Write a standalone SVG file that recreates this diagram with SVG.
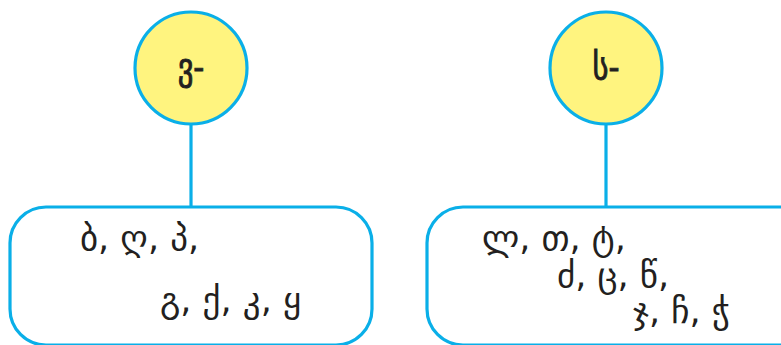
<svg xmlns="http://www.w3.org/2000/svg" width="781" height="345" viewBox="0 0 781 345">
  <style>
    .head { fill: #fff47f; stroke: #0aafe8; stroke-width: 3.2; }
    .box { fill: #ffffff; stroke: #0aafe8; stroke-width: 3.2; }
    .link { stroke: #0aafe8; stroke-width: 3.2; fill: none; }
    .lbl { font-family: "DejaVu Sans", sans-serif; fill: #231f20; }
    .hlbl { font-size: 36px; text-anchor: middle; stroke: #231f20; stroke-width: 0.9; }
    .item { font-size: 35px; }
  </style>
  <rect width="781" height="345" fill="#ffffff"/>
  <g id="connectors">
    <line class="link" x1="191" y1="124" x2="191" y2="207"/>
    <line class="link" x1="606" y1="124" x2="606" y2="207"/>
  </g>
  <g id="node-v">
    <circle class="head" cx="191" cy="68" r="56"/>
    <text class="lbl hlbl" transform="translate(191 79) scale(0.85 1)">ვ-</text>
  </g>
  <g id="node-s">
    <circle class="head" cx="606" cy="68" r="56"/>
    <text class="lbl hlbl" transform="translate(606 79) scale(0.85 1)">ს-</text>
  </g>
  <g id="list-v">
    <rect class="box" x="10" y="207" width="362" height="138" rx="36"/>
    <text class="lbl item" x="80" y="250">ბ, ღ, პ,</text>
    <text class="lbl item" x="160" y="312">გ, ქ, კ, ყ</text>
  </g>
  <g id="list-s">
    <rect class="box" x="427" y="207" width="390" height="138" rx="36"/>
    <text class="lbl item" x="482" y="250">ლ, თ, ტ,</text>
    <text class="lbl item" x="557" y="287">ძ, ც, წ,</text>
    <text class="lbl item" x="633" y="323">ჯ, ჩ, ჭ</text>
  </g>
</svg>
